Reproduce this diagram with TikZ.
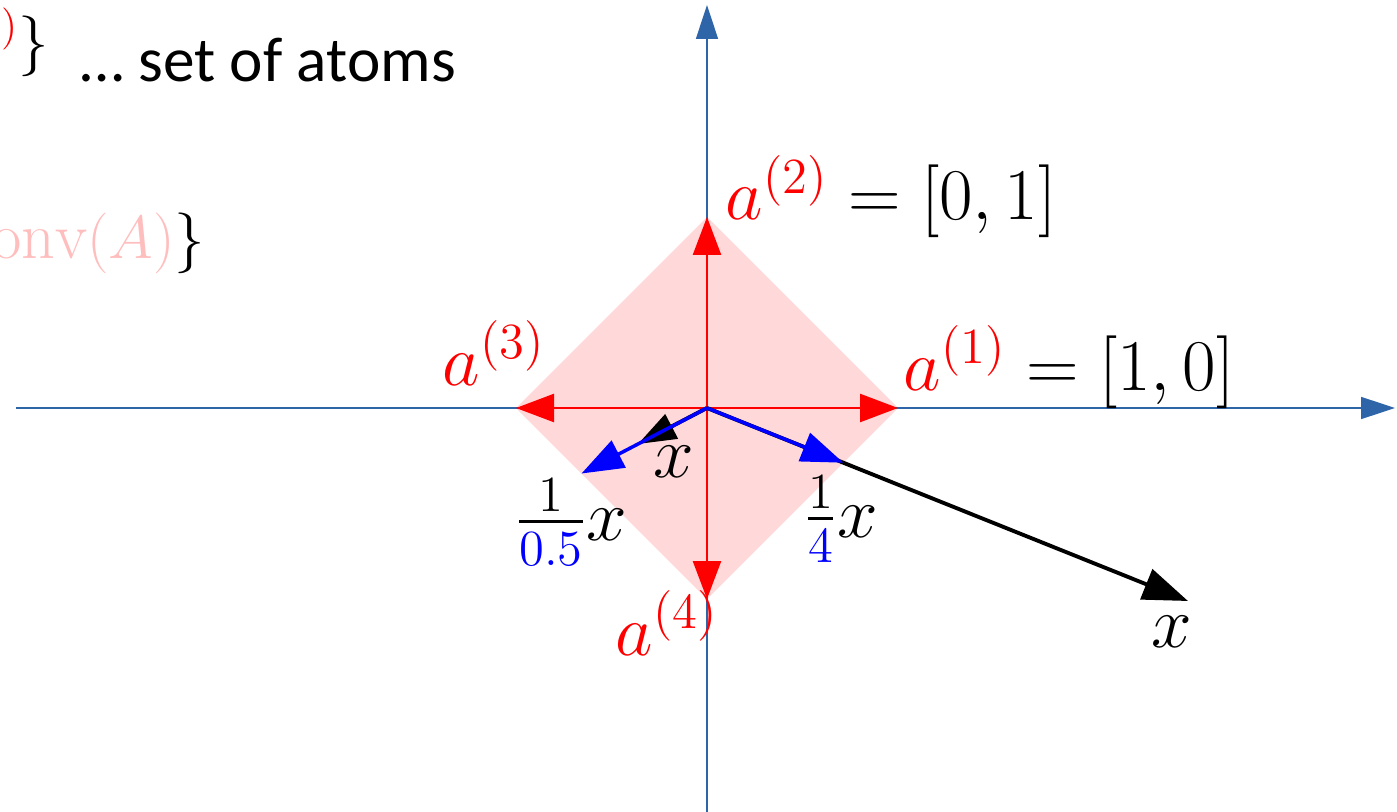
\documentclass[tikz,border=0pt]{standalone}
\usepackage{amsmath,amssymb}
\usepackage{fontspec}
\newfontfamily\calibri{Carlito}
\usetikzlibrary{arrows.meta}
\definecolor{AxisBlue}{RGB}{46,100,168}
\definecolor{HullPink}{RGB}{255,217,217}
\definecolor{HullText}{RGB}{255,190,190}
\tikzset{
  axis/.style={draw=AxisBlue,line width=0.45pt,-{Triangle[length=0.34cm,width=0.22cm]}},
  atom/.style={draw=red,line width=0.7pt,-{Triangle[length=0.38cm,width=0.28cm]}},
  scaled/.style={draw=blue,line width=1pt,-{Triangle[length=0.42cm,width=0.30cm]}},
  vec/.style={draw=black,line width=1.1pt,-{Triangle[length=0.45cm,width=0.32cm]}},
  vecsmall/.style={draw=black,line width=1.1pt,-{Triangle[length=0.38cm,width=0.27cm]}},
  lbl/.style={inner sep=0pt,font=\fontsize{19.6}{23}\selectfont},
  fraclbl/.style={inner sep=0pt,font=\fontsize{20}{24}\selectfont},
  toplbl/.style={inner sep=0pt,font=\fontsize{18}{22}\selectfont},
}

\begin{document}
\begin{tikzpicture}
\useasboundingbox (-7.07,-4.03) rectangle (6.90,4.08);
\clip (-7.07,-4.03) rectangle (6.90,4.08);
\coordinate (o) at (0,0);
\coordinate (a1) at (1.91,0);
\coordinate (a2) at (0,1.91);
\coordinate (a3) at (-1.91,0);
\coordinate (a4) at (0,-1.91);
\coordinate (xbig) at (4.81,-1.93);
\coordinate (xsmall) at (-0.69,-0.36);
\coordinate (xq) at (1.363,-0.547);
\coordinate (xh) at (-1.255,-0.655);
\coordinate (hl) at (-6.91,0);
\coordinate (hr) at (6.88,0);
\coordinate (vb) at (0,-4.10);
\coordinate (vt) at (0,4.03);
% unit ball
\fill[HullPink] (a1) -- (a2) -- (a3) -- (a4) -- cycle;
\draw[axis] (hl) -- (hr);
\draw[axis] (vb) -- (vt);
% atoms
\draw[atom] (o) -- (a1);
\draw[atom] (o) -- (a2);
\draw[atom] (o) -- (a3);
\draw[atom] (o) -- (a4);
% x and its scaled copies
\draw[vec] (o) -- (xbig);
\draw[vecsmall] (o) -- (xsmall);
\draw[scaled] (o) -- (xq);
\draw[scaled] (o) -- (xh);
\node[lbl,anchor=base west] (la1) at (1.96,0.18) {${\color{red}a^{(1)}}=[1,0]$};
\node[lbl,anchor=base west] (la2) at (0.18,1.88) {${\color{red}a^{(2)}}=[0,1]$};
\node[lbl,anchor=base west] (la3) at (-2.65,0.23) {${\color{red}a^{(3)}}$};
\node[lbl,anchor=base west] (la4) at (-0.92,-2.47) {${\color{red}a^{(4)}}$};
\node[fraclbl,anchor=base west] (lh) at (-1.925,-1.32) {$\frac{1}{\color{blue}0.5}x$};
\node[fraclbl,anchor=base west] (lq) at (0.965,-1.29) {$\frac{1}{\color{blue}4}x$};
\node[lbl,anchor=base west] (lxs) at (-0.54,-0.69) {$x$};
\node[lbl,anchor=base west] (lxb) at (4.44,-2.39) {$x$};
% text at the top left
\node[toplbl,anchor=base east] (ltop) at (-6.57,3.46) {${\color{red}a^{(4)}}\}$};
\node[inner sep=0pt,anchor=base west,font=\calibri\fontsize{18}{22}\selectfont] (lset) at (-6.27,3.26) {… set of atoms};
\node[toplbl,anchor=base east,font=\fontsize{18.8}{22}\selectfont] (lhull) at (-5.01,1.49) {${\color{HullText}\mathrm{conv}(A)}\}$};
\end{tikzpicture}
\end{document}
